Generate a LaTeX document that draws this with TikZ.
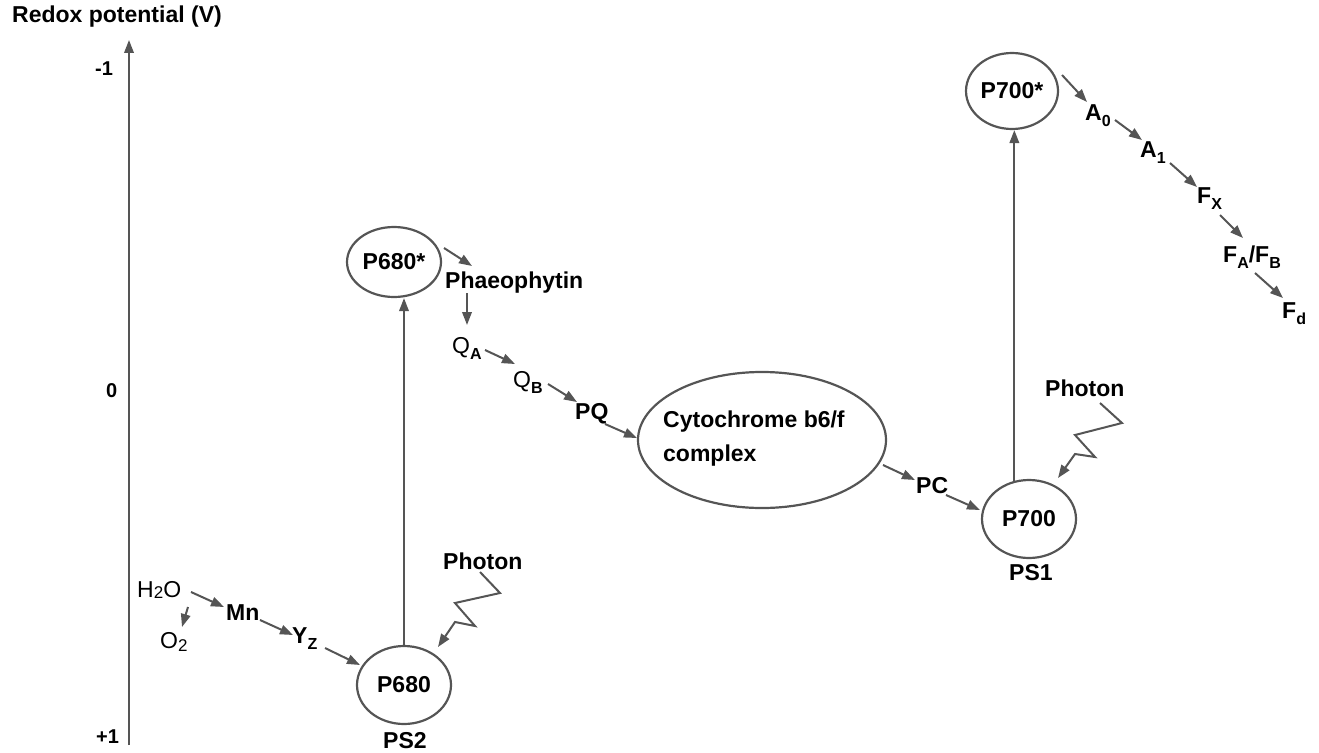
\documentclass[tikz,border=0pt]{standalone}
\usepackage{fontspec}
\setmainfont{Liberation Sans}
\usetikzlibrary{arrows.meta,shapes.geometric}
\definecolor{lg}{RGB}{85,85,85}
\newcommand{\lsub}[1]{\raisebox{-6pt}{\fontsize{16}{16}\selectfont #1}}
\begin{document}
\begin{tikzpicture}[x=1pt,y=-1pt,
  lbl/.style={inner sep=0pt, anchor=base west, font=\fontsize{23}{34}\selectfont\bfseries, text=black},
  axl/.style={lbl, font=\fontsize{20}{24}\selectfont\bfseries},
  ell/.style={ellipse, draw=lg, line width=2.2pt, inner sep=0pt, font=\fontsize{23}{27}\selectfont\bfseries},
  arr/.style={draw=lg, line width=2pt, -{Triangle[length=13pt,width=9.5pt]}}
]
\useasboundingbox (0,0) rectangle (1319,752);
% axis
\node[lbl] (title) at (12,23) {Redox potential (V)};
\node[axl] (m1) at (95,75) {-1};
\node[axl] (z) at (106,397) {0};
\node[axl] (p1) at (96,743) {+1};
\coordinate (axb) at (129,745);
\coordinate (axt) at (129,40);
\draw[arr] (axb) -- (axt);
% ellipses
\node[ell, minimum width=94pt, minimum height=70pt] (P680s) at (394,262) {P680*};
\node[ell, minimum width=94pt, minimum height=78pt] (P680) at (404,685) {P680};
\node[ell, minimum width=92pt, minimum height=76pt] (P700s) at (1012,91) {P700*};
\node[ell, minimum width=94pt, minimum height=78pt] (P700) at (1029,519) {P700};
\node[ell, minimum width=248pt, minimum height=136pt] (cyt) at (762,440) {};
\node[lbl, align=left, anchor=north west] (cyttext) at (663,411) {Cytochrome b6/f\\complex};
% text labels
\node[lbl] (Ph) at (445,288) {Phaeophytin};
\node[lbl] (QA) at (452,353) {{\mdseries Q}\lsub{A}};
\node[lbl] (QB) at (513,387) {{\mdseries Q}\lsub{B}};
\node[lbl] (PQ) at (575,419) {PQ};
\node[lbl] (PC) at (916,493) {PC};
\node[lbl] (A0) at (1085,120) {A\lsub{0}};
\node[lbl] (A1) at (1140,157) {A\lsub{1}};
\node[lbl] (FX) at (1197,203) {F\lsub{X}};
\node[lbl] (FAB) at (1223,262) {F\lsub{A}/F\lsub{B}};
\node[lbl] (Fd) at (1282,318) {F\lsub{d}};
\node[lbl] (H2O) at (137,597) {\mdseries H\raisebox{-1pt}{\fontsize{17}{17}\selectfont 2}O};
\node[lbl] (O2) at (160,648) {\mdseries O\raisebox{-3pt}{\fontsize{17}{17}\selectfont 2}};
\node[lbl] (Mn) at (226,620) {Mn};
\node[lbl] (Yz) at (292,643) {Y\lsub{Z}};
\node[lbl] (phL) at (443,569) {Photon};
\node[lbl] (phR) at (1045,396) {Photon};
\node[lbl] (PS2) at (383,748) {PS2};
\node[lbl] (PS1) at (1009,580) {PS1};
% excitation arrows
\draw[arr] (P680.north) -- (P680.north |- P680s.south);
\draw[arr] (P700.111) -- (P700.111 |- P700s.south);
% electron transport
\draw[arr] ([shift={(50,-14)}]P680s.center) -- ([shift={(27,-22)}]Ph.base west);
\draw[arr] ([shift={(22,5)}]Ph.base west) -- ([shift={(15,-28)}]QA.base west);
\draw[arr] ([shift={(33,-3)}]QA.base west) -- ([shift={(2,-23)}]QB.base west);
\draw[arr] ([shift={(35,-3)}]QB.base west) -- ([shift={(2,-17)}]PQ.base west);
\draw[arr] ([shift={(30,5)}]PQ.base west) -- ([shift={(-125,-2)}]cyt.center);
\draw[arr] ([shift={(121,25)}]cyt.center) -- ([shift={(-1,-13)}]PC.base west);
\draw[arr] ([shift={(30,2)}]PC.base west) -- ([shift={(-49,-9)}]P700.center);
\draw[arr] ([shift={(50,-16)}]P700s.center) -- ([shift={(2,-18)}]A0.base west);
\draw[arr] ([shift={(30,0)}]A0.base west) -- ([shift={(2,-17)}]A1.base west);
\draw[arr] ([shift={(30,6)}]A1.base west) -- ([shift={(0,-16)}]FX.base west);
\draw[arr] ([shift={(23,12)}]FX.base west) -- ([shift={(20,-24)}]FAB.base west);
\draw[arr] ([shift={(32,11)}]FAB.base west) -- ([shift={(1,-20)}]Fd.base west);
\draw[arr] ([shift={(51,10)}]H2O.base west) -- ([shift={(22,-21)}]O2.base west);
\draw[arr] ([shift={(54,-5)}]H2O.base west) -- ([shift={(-2,-13)}]Mn.base west);
\draw[arr] ([shift={(34,0)}]Mn.base west) -- ([shift={(1,-8)}]Yz.base west);
\draw[arr] ([shift={(33,5)}]Yz.base west) -- ([shift={(-44,-20)}]P680.center);
% photons
\draw[arr] ([shift={(37,3)}]phL.base west) -- ++(20,21) -- ++(-45,10) -- ++(20,23) -- ++(-20,-4) -- ([shift={(34,-38)}]P680.center);
\draw[arr] ([shift={(55,7)}]phR.base west) -- ++(22,20) -- ++(-47,12) -- ++(20,22) -- ++(-20,-3) -- ([shift={(29,-41)}]P700.center);
\end{tikzpicture}
\end{document}
